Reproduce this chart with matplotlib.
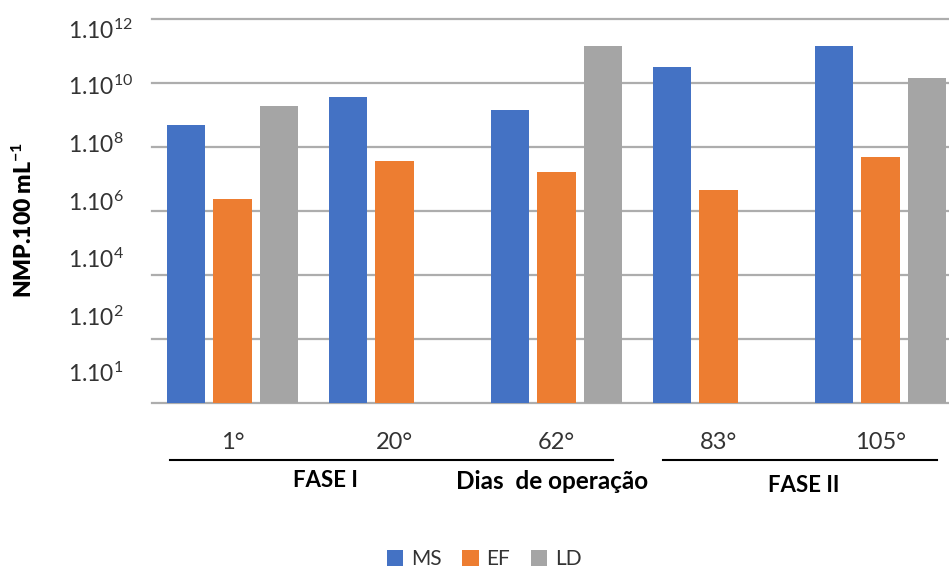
import matplotlib
matplotlib.use("Agg")
import matplotlib.pyplot as plt
from matplotlib.lines import Line2D
from matplotlib.ticker import NullLocator
import numpy as np

plt.rcParams["font.family"] = ["Lato", "DejaVu Sans"]
plt.rcParams["mathtext.fontset"] = "custom"
plt.rcParams["mathtext.rm"] = "Lato"
plt.rcParams["mathtext.it"] = "Lato:italic"
plt.rcParams["mathtext.bf"] = "Lato:bold"

# Days of operation and most probable number per 100 mL
days = ["1°", "20°", "62°", "83°", "105°"]
series_names = ["MS", "EF", "LD"]
ms_values = [4.9e8, 3.5e9, 1.45e9, 3.0e10, 1.45e11]
ef_values = [2.3e6, 3.6e7, 1.65e7, 4.3e6, 4.9e7]
ld_values = [1.9e9, np.nan, 1.45e11, np.nan, 1.4e10]
y_tick_labels = ["1.10$^{1}$", "1.10$^{2}$", "1.10$^{4}$", "1.10$^{6}$",
                 "1.10$^{8}$", "1.10$^{10}$", "1.10$^{12}$"]
phases = ["FASE I", "FASE II"]
x_title = "Dias  de operação"
y_title = r"NMP.100 mL$^{\mathbf{-1}}$"

colors = ["#4472C4", "#ED7D31", "#A5A5A5"]
grid_color = "#ADADAD"
text_color = "#333333"

W, H = 949, 570
fig = plt.figure(figsize=(W / 100, H / 100), dpi=100)


def fx(px):
    return px / W


def fy(py):
    return 1 - py / H


ax = fig.add_axes([fx(151.5), fy(402.7), 810 / W, (402.7 - 18.7) / H])

x = np.arange(len(days))
width = 0.235
step = 0.288
handles = []
for i, (vals, color, name) in enumerate(zip([ms_values, ef_values, ld_values],
                                            colors, series_names)):
    b = ax.bar(x + (i - 1) * step, vals, width, color=color, label=name,
               zorder=3)
    handles.append(b)

ax.set_yscale("log")
ax.set_ylim(1, 1e12)
ax.set_xlim(-0.5, len(days) - 0.5)
ax.set_yticks([10.0 ** k for k in range(0, 13, 2)])
ax.yaxis.set_minor_locator(NullLocator())
ax.tick_params(axis="y", length=0, labelleft=False)
ax.grid(axis="y", color=grid_color, lw=1.6, zorder=0)
for gl in ax.get_ygridlines():
    gl.set_clip_on(False)
for s in ["top", "right", "left", "bottom"]:
    ax.spines[s].set_visible(False)

ax.set_xticks(x, labels=days)
ax.tick_params(axis="x", length=0, pad=21, labelsize=17, labelcolor=text_color)

# Y-axis labels, left aligned in a column
label_baselines = [382, 326, 268, 211, 153, 95, 39.3]
for lab, py in zip(y_tick_labels, label_baselines):
    fig.text(fx(68), fy(py), lab, ha="left", va="baseline", fontsize=16.5,
             color=text_color)

# Phase brackets below the day labels
for x0, x1 in [(170, 613), (663, 937)]:
    fig.add_artist(Line2D([fx(x0), fx(x1)], [fy(460), fy(460)],
                          transform=fig.transFigure, color="black", lw=1.5))

fig.text(fx(325), fy(487), phases[0], ha="center", va="baseline",
         fontsize=16, fontweight="bold", color="black")
fig.text(fx(552), fy(489), x_title, ha="center", va="baseline",
         fontsize=17.5, fontweight="bold", color="black")
fig.text(fx(804), fy(492), phases[1], ha="center", va="baseline",
         fontsize=16, fontweight="bold", color="black")

fig.text(fx(24), fy(220), y_title, rotation=90, ha="center", va="center",
         fontsize=16.5, fontweight="heavy", color="black")

fig.legend(handles, series_names, loc="center",
           bbox_to_anchor=(fx(484), fy(559)), ncol=3, frameon=False,
           fontsize=15, handlelength=0.8, handleheight=0.8,
           handletextpad=0.35, columnspacing=1.0, labelcolor=text_color)

fig.savefig("out.png", dpi=100)
